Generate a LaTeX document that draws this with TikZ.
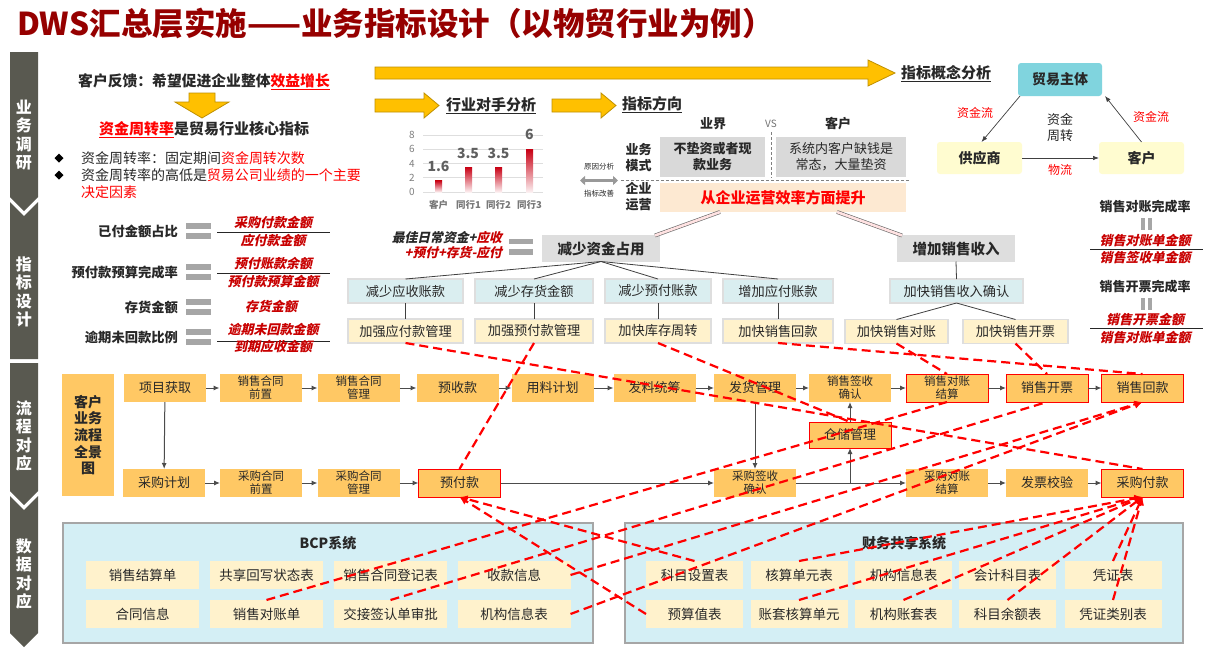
\documentclass[tikz,border=0pt]{standalone}
\usepackage{fontspec}
\setmainfont{Noto Sans CJK SC}
\newfontfamily\slfont{Noto Sans CJK SC}[FakeSlant=0.22]
\usetikzlibrary{arrows.meta}
\newcommand\fsz[2]{\fontsize{#1}{#2}\selectfont}
\definecolor{titred}{RGB}{150,0,0}
\definecolor{sidegray}{RGB}{89,89,80}
\definecolor{arrowy}{RGB}{255,192,0}
\definecolor{arrowd}{RGB}{191,144,0}
\definecolor{redt}{RGB}{255,0,0}
\definecolor{fracred}{RGB}{200,0,0}
\definecolor{graybox}{RGB}{222,222,222}
\definecolor{cyanbox}{RGB}{218,238,240}
\definecolor{yelbox}{RGB}{255,242,204}
\definecolor{procor}{RGB}{255,200,100}
\definecolor{panelc}{RGB}{212,239,245}
\definecolor{peach}{RGB}{253,233,210}
\definecolor{tradec}{RGB}{128,212,222}
\definecolor{ltyel}{RGB}{255,252,208}
\definecolor{barred}{RGB}{200,0,20}
\definecolor{chartg}{RGB}{95,95,95}
\definecolor{eqgray}{RGB}{166,166,166}
\definecolor{txt}{RGB}{40,40,40}
\tikzset{
  every node/.style={inner sep=0pt, outer sep=0pt, text=txt},
  sidelab/.style={font=\bfseries\fsz{16}{18.5}, text=white, align=center},
  bigarrow/.style={fill=arrowy, draw=arrowd, line width=0.8pt},
  head/.style={anchor=west, font=\bfseries\fsz{15}{17}},
  tbox/.style={draw=black!13, line width=1.2pt, minimum height=24pt, font=\fsz{13.2}{15}},
  lvla/.style={tbox, fill=graybox, minimum height=26pt, font=\bfseries\fsz{14.5}{17}},
  lvlb/.style={tbox, fill=cyanbox},
  lvlc/.style={tbox, fill=yelbox},
  tline/.style={draw=black!75, line width=0.8pt},
  pinkcon/.style={draw=black!60, line width=0.6pt, double=pink!45, double distance=2.6pt},
  lab/.style={anchor=east, font=\bfseries\fsz{13.3}{15}},
  frac/.style={font=\slfont\bfseries\fsz{13}{15}, text=fracred},
  fracline/.style={draw=black!85, line width=0.8pt},
  eqbar/.style={fill=eqgray},
  proc/.style={fill=procor, minimum width=82pt, minimum height=28pt, font=\fsz{13}{15}, align=center},
  proctwo/.style={proc, font=\fsz{11.5}{13}},
  redb/.style={draw=red, line width=1pt},
  flow/.style={draw=black!70, line width=1pt, -{Latex[length=6pt,width=5pt]}},
  panel/.style={fill=panelc, draw=black!35, line width=2.2pt},
  dbox/.style={fill=yelbox, minimum height=28pt, font=\fsz{13.5}{15}},
  rd/.style={draw=red, line width=2.2pt, dash pattern=on 9pt off 5pt},
  rda/.style={rd, -{Latex[length=8pt,width=8pt]}},
  thinarrow/.style={draw=black!75, line width=0.7pt, -{Latex[length=6pt,width=4.5pt]}},
  axl/.style={font=\fsz{10}{12}, text=chartg!80},
  valf/.style={font=\bfseries\fsz{14}{16}, text=chartg},
  catf/.style={font=\bfseries\fsz{9.5}{11}, text=chartg!85},
}
\begin{document}
\begin{tikzpicture}[x=1pt,y=-1pt]
\useasboundingbox (0,0) rectangle (1208,651);
\fill[white] (0,0) rectangle (1208,651);

% title
\node[anchor=west, font=\bfseries\fsz{31.5}{35}, text=titred] (title) at (17,23) {DWS汇总层实施——业务指标设计（以物贸行业为例）};

% sidebar
\fill[sidegray] (10,52) -- (38,52) -- (38,197) -- (24,211) -- (10,197) -- cycle;
\fill[sidegray] (10,202) -- (24,216) -- (38,202) -- (38,359) -- (10,359) -- cycle;
\fill[sidegray] (10,363) -- (38,363) -- (38,491) -- (24,505) -- (10,491) -- cycle;
\fill[sidegray] (10,496) -- (24,510) -- (38,496) -- (38,633) -- (24,647) -- (10,633) -- cycle;
\node[sidelab] (s1) at (24,135) {业\\务\\调\\研};
\node[sidelab] (s2) at (24,292) {指\\标\\设\\计};
\node[sidelab] (s3) at (24,436) {流\\程\\对\\应};
\node[sidelab] (s4) at (24,574) {数\\据\\对\\应};

% section 1 left
\node[font=\bfseries\fsz{14.8}{17}] (fb) at (204,82) {客户反馈：希望促进企业整体\textcolor{redt}{\underline{效益增长}}};
\filldraw[bigarrow] (189,93) -- (215,93) -- (215,102) -- (229,102) -- (202,118) -- (175,102) -- (189,102) -- cycle;
\node[font=\bfseries\fsz{15}{17}] (core) at (204,130) {\textcolor{redt}{\underline{资金周转率}}是贸易行业核心指标};
\fill (59,153.5) -- (63.5,158) -- (59,162.5) -- (54.5,158) -- cycle;
\fill (59,170.5) -- (63.5,175) -- (59,179.5) -- (54.5,175) -- cycle;
\node[anchor=west, font=\fsz{14}{16}] (bl1) at (81,158) {资金周转率：固定期间\textcolor{redt}{资金周转次数}};
\node[anchor=west, font=\fsz{14}{16}] (bl2) at (81,175) {资金周转率的高低是\textcolor{redt}{贸易公司业绩的一个主要}};
\node[anchor=west, font=\fsz{14}{16}] (bl3) at (81,192.5) {\textcolor{redt}{决定因素}};

% big arrows
\filldraw[bigarrow] (375,67) -- (868,67) -- (868,60) -- (895,73) -- (868,86) -- (868,79) -- (375,79) -- cycle;
\filldraw[bigarrow] (375,99) -- (424,99) -- (424,93) -- (439,105.5) -- (424,118) -- (424,112) -- (375,112) -- cycle;
\filldraw[bigarrow] (552,99) -- (601,99) -- (601,93) -- (616,105.5) -- (601,118) -- (601,112) -- (552,112) -- cycle;
\node[head] (h1) at (901,74) {\underline{指标概念分析}};
\node[head] (h2) at (446,106) {\underline{行业对手分析}};
\node[head] (h3) at (622,105) {\underline{指标方向}};

% chart
\foreach \v in {0,2,4,6,8} {
  \draw[black!13, line width=0.8pt] (423,{192-\v*7.125}) -- (543,{192-\v*7.125});
  \node[axl] at (412,{192-\v*7.125}) {\v};
}
\foreach \c/\v in {438.5/1.6, 468.5/3.5, 498.5/3.5, 529.5/6}
  \shade[top color=barred, bottom color=barred!6] ({\c-3.5},{192-\v*7.125}) rectangle ({\c+3.5},192);
\node[valf] (v1) at (438.5,166) {1.6};
\node[valf] (v2) at (468,153) {3.5};
\node[valf] (v3) at (498.5,153) {3.5};
\node[valf] (v4) at (529.5,134) {6};
\node[catf] (k1) at (438.5,205) {客户};
\node[catf] (k2) at (468.5,205) {同行1};
\node[catf] (k3) at (498.5,205) {同行2};
\node[catf] (k4) at (529.5,205) {同行3};

% direction block
\node[font=\fsz{7.5}{9}] (yyfx) at (599,167) {原因分析};
\node[font=\fsz{7.5}{9}] (zbgs) at (599,194) {指标改善};
\coordinate (dal) at (580,180.5);
\coordinate (dar) at (618,180.5);
\draw[line width=3.5pt, black!40, {Triangle[length=5pt,width=9pt]}-{Triangle[length=5pt,width=9pt]}] (dal) -- (dar);
\node[font=\bfseries\fsz{13}{15}] (yj) at (713,124) {业界};
\node[font=\fsz{10}{12}, text=black!55] (vs) at (771,124) {VS};
\node[font=\bfseries\fsz{13}{15}] (kh) at (838,124) {客户};
\node[font=\bfseries\fsz{13}{16.5}, align=center] (ywms) at (638.5,157.5) {业务\\模式};
\node[font=\bfseries\fsz{13}{16.5}, align=center] (qyyy) at (638.5,196.5) {企业\\运营};
\node[fill=black!15, minimum width=105pt, minimum height=40pt, font=\bfseries\fsz{13}{16}, align=center] (gb1) at (712.5,157) {不垫资或者现\\款业务};
\node[fill=black!15, minimum width=130pt, minimum height=40pt, font=\fsz{13}{16}, align=center] (gb2) at (841,157) {系统内客户缺钱是\\常态，大量垫资};
\coordinate (vd1) at (771,132);
\coordinate (vd2) at (771,178);
\coordinate (hd1) at (621,180.5);
\coordinate (hd2) at (910,180.5);
\draw[black!50, line width=0.8pt, dash pattern=on 3pt off 2pt] (vd1) -- (vd2);
\draw[black!50, line width=0.8pt, dash pattern=on 3pt off 2pt] (hd1) -- (hd2);
\node[fill=peach, minimum width=246pt, minimum height=29pt, font=\bfseries\fsz{15}{17}, text=redt] (pc) at (783,197.5) {从企业运营效率方面提升};

% trade triangle
\node[fill=tradec, rounded corners=3pt, minimum width=84pt, minimum height=33pt, font=\bfseries\fsz{14}{16}] (trade) at (1060,79.5) {贸易主体};
\node[fill=ltyel, rounded corners=3pt, minimum width=85pt, minimum height=32pt, font=\bfseries\fsz{14}{16}] (supp) at (979.5,158) {供应商};
\node[fill=ltyel, rounded corners=3pt, minimum width=85pt, minimum height=32pt, font=\bfseries\fsz{14}{16}] (cust) at (1141.5,158) {客户};
\draw[thinarrow] ([xshift=2pt]trade.south west) -- ([xshift=2pt]supp.north);
\draw[thinarrow] (cust.north) -- ([xshift=3pt]trade.south east);
\draw[thinarrow] (supp.east) -- (cust.west);
\node[font=\fsz{12}{14}, text=redt] (zjl1) at (975,113) {资金流};
\node[font=\fsz{12}{14}, text=redt] (zjl2) at (1151,117) {资金流};
\node[font=\fsz{13}{15.5}, align=center] (zjzz) at (1060,127.5) {资金\\周转};
\node[font=\fsz{12}{14}, text=redt] (wl) at (1060,170) {物流};

% section 2 left indicators
\node[lab] (i1) at (178,231) {已付金额占比};
\node[lab] (i2) at (178,272) {预付款预算完成率};
\node[lab] (i3) at (178,307) {存货金额};
\node[lab] (i4) at (178,337) {逾期未回款比例};
\foreach \y in {231,272,307,337} {
  \fill[eqgray] (186,{\y-8}) rectangle (211,{\y-2.5});
  \fill[eqgray] (186,{\y+2}) rectangle (211,{\y+7.5});
}
\coordinate (fl1a) at (217,232); \coordinate (fl1b) at (330,232);
\coordinate (fl2a) at (217,273); \coordinate (fl2b) at (330,273);
\coordinate (fl4a) at (217,341); \coordinate (fl4b) at (330,341);
\draw[fracline] (fl1a) -- (fl1b);
\draw[fracline] (fl2a) -- (fl2b);
\draw[fracline] (fl4a) -- (fl4b);
\node[frac] (n1) at (273,223) {采购付款金额};
\node[frac] (d1) at (273,241) {应付款金额};
\node[frac] (n2) at (273,263.5) {预付账款余额};
\node[frac] (d2) at (273,281.5) {预付款预算金额};
\node[frac] (n3) at (271,307) {存货金额};
\node[frac] (n4) at (273,329.5) {逾期未回款金额};
\node[frac] (d4) at (273,347) {到期应收金额};

% tree
\node[anchor=east, font=\slfont\bfseries\fsz{12.8}{14}] (fm1) at (502,238) {最佳日常资金+\textcolor{fracred}{应收}};
\node[anchor=east, font=\slfont\bfseries\fsz{12.8}{14}, text=fracred] (fm2) at (502,253) {+预付+存货-应付};
\fill[eqgray] (509,238.5) rectangle (533,244);
\fill[eqgray] (509,249) rectangle (533,254.5);
\node[lvla, minimum width=116pt] (top1) at (601,248.5) {减少资金占用};
\node[lvla, minimum width=116pt] (top2) at (956,248.5) {增加销售收入};
\node[lvlb, minimum width=115pt] (r21) at (405.5,291) {减少应收账款};
\node[lvlb, minimum width=118pt] (r22) at (534,291) {减少存货金额};
\node[lvlb, minimum width=106pt] (r23) at (658,291) {减少预付账款};
\node[lvlb, minimum width=110pt] (r24) at (778,291) {增加应付账款};
\node[lvlb, minimum width=133pt] (r25) at (956.5,291) {加快销售收入确认};
\node[lvlc, minimum width=115pt] (r31) at (405.5,331) {加强应付款管理};
\node[lvlc, minimum width=118pt] (r32) at (534,331) {加强预付款管理};
\node[lvlc, minimum width=106pt] (r33) at (658,331) {加快库存周转};
\node[lvlc, minimum width=110pt] (r34) at (778,331) {加快销售回款};
\node[lvlc, minimum width=103pt] (r35) at (896.5,331.5) {加快销售对账};
\node[lvlc, minimum width=105pt] (r36) at (1015.5,331.5) {加快销售开票};
\foreach \n in {r21,r22,r23,r24} \draw[tline] (top1.south) -- (\n.north);
\draw[tline] (r21.south) -- (r31.north);
\draw[tline] (r22.south) -- (r32.north);
\draw[tline] (r23.south) -- (r33.north);
\draw[tline] (r24.south) -- (r34.north);
\draw[tline] (top2.south) -- (r25.north);
\draw[tline] (r25.south) -- (r35.north);
\draw[tline] (r25.south) -- (r36.north);
\draw[pinkcon] ([xshift=-63pt]pc.south) -- ([xshift=54pt]top1.north);
\draw[pinkcon] ([xshift=54pt]pc.south) -- ([xshift=-54pt]top2.north);

% right indicators
\node[font=\bfseries\fsz{13}{15}] (ri1) at (1145,207) {销售对账完成率};
\fill[eqgray] (1140.5,218) rectangle (1144.5,230);
\fill[eqgray] (1147.5,218) rectangle (1151.5,230);
\node[frac] (rn1) at (1145,241) {销售对账单金额};
\coordinate (rl1a) at (1090,249); \coordinate (rl1b) at (1203,249);
\draw[fracline] (rl1a) -- (rl1b);
\node[frac] (rd1) at (1145,258) {销售签收单金额};
\node[font=\bfseries\fsz{13}{15}] (ri2) at (1145,287) {销售开票完成率};
\fill[eqgray] (1140.5,298) rectangle (1144.5,310);
\fill[eqgray] (1147.5,298) rectangle (1151.5,310);
\node[frac] (rn2) at (1145,320) {销售开票金额};
\coordinate (rl2a) at (1090,328); \coordinate (rl2b) at (1203,328);
\draw[fracline] (rl2a) -- (rl2b);
\node[frac] (rd2) at (1145,338) {销售对账单金额};

% process
\node[fill=procor, minimum width=52pt, minimum height=122pt, font=\bfseries\fsz{14}{16.6}, align=center] (pano) at (88,435) {客户\\业务\\流程\\全景\\图};
\node[proc] (a1) at (165,388) {项目获取};
\node[proctwo] (a2) at (260.5,388) {销售合同\\前置};
\node[proctwo] (a3) at (358.5,388) {销售合同\\管理};
\node[proc] (a4) at (457.5,388) {预收款};
\node[proc] (a5) at (552.5,388) {用料计划};
\node[proc] (a6) at (654.5,388) {发料统筹};
\node[proc] (a7) at (755,388) {发货管理};
\node[proctwo] (a8) at (850,388) {销售签收\\确认};
\node[proctwo, redb] (a9) at (947,388) {销售对账\\结算};
\node[proc, redb] (a10) at (1047,388) {销售开票};
\node[proc, redb] (a11) at (1142.5,388) {销售回款};
\node[proc] (b1) at (164,483) {采购计划};
\node[proctwo] (b2) at (261,483) {采购合同\\前置};
\node[proctwo] (b3) at (358.5,483) {采购合同\\管理};
\node[proc, redb] (b4) at (459.5,483) {预付款};
\node[proctwo] (b5) at (755,483) {采购签收\\确认};
\node[proctwo] (b6) at (947,483) {采购对账\\结算};
\node[proc] (b7) at (1047,483) {发票校验};
\node[proc, redb] (b8) at (1142.5,483) {采购付款};
\node[proc, redb, minimum height=26pt] (st) at (850,435) {仓储管理};
\draw[flow] (a1) -- (a2);
\draw[flow] (a2) -- (a3);
\draw[flow] (a3) -- (a4);
\draw[flow] (a4) -- (a5);
\draw[flow] (a5) -- (a6);
\draw[flow] (a6) -- (a7);
\draw[flow] (a7) -- (a8);
\draw[flow] (a8) -- (a9);
\draw[flow] (a9) -- (a10);
\draw[flow] (a10) -- (a11);
\draw[flow] (a1) -- (b1);
\draw[flow] (b1) -- (b2);
\draw[flow] (b2) -- (b3);
\draw[flow] (b3) -- (b4);
\draw[flow] (b4) -- (b5);
\draw[flow] (a7) -- (b5);
\draw[flow] (b5) -- (b6);
\draw[flow] (b5.east -| st.south) -- (st.south);
\draw[flow] (st) -- (a8);
\draw[flow] (b6) -- (b7);
\draw[flow] (b7) -- (b8);

% data panels
\node[panel, minimum width=530pt, minimum height=120pt] (bcp) at (328,583) {};
\node[font=\bfseries\fsz{14}{16}] (bcpt) at (328,543) {BCP系统};
\node[dbox, minimum width=113pt] (c1) at (142.5,575) {销售结算单};
\node[dbox, minimum width=113pt] (c2) at (266.5,575) {共享回写状态表};
\node[dbox, minimum width=113pt] (c3) at (390.5,575) {销售合同登记表};
\node[dbox, minimum width=113pt] (c4) at (514,575) {收款信息};
\node[dbox, minimum width=113pt] (c5) at (142.5,614) {合同信息};
\node[dbox, minimum width=113pt] (c6) at (266.5,614) {销售对账单};
\node[dbox, minimum width=113pt] (c7) at (390.5,614) {交接签认单审批};
\node[dbox, minimum width=113pt] (c8) at (514,614) {机构信息表};
\node[panel, minimum width=558pt, minimum height=120pt] (fin) at (904,583) {};
\node[font=\bfseries\fsz{14}{16}] (fint) at (904,543) {财务共享系统};
\node[dbox, minimum width=97pt] (f1) at (694.5,575) {科目设置表};
\node[dbox, minimum width=97pt] (f2) at (799,575) {核算单元表};
\node[dbox, minimum width=97pt] (f3) at (903.5,575) {机构信息表};
\node[dbox, minimum width=97pt] (f4) at (1007.5,575) {会计科目表};
\node[dbox, minimum width=97pt] (f5) at (1113,575) {凭证表};
\node[dbox, minimum width=97pt] (f6) at (694.5,614) {预算值表};
\node[dbox, minimum width=97pt] (f7) at (799,614) {账套核算单元};
\node[dbox, minimum width=97pt] (f8) at (903.5,614) {机构账套表};
\node[dbox, minimum width=97pt] (f9) at (1007.5,614) {科目余额表};
\node[dbox, minimum width=97pt] (f10) at (1113,614) {凭证类别表};

% red dashed mapping lines
\draw[rd] (r31.south) -- (b8.north);
\draw[rd] (r32.south) -- (b4.north);
\draw[rd] (r33.south) -- (st.north);
\draw[rd] (r34.south) -- (a11.north);
\draw[rd] (r35.south) -- (a9.north);
\draw[rd] (r36.south) -- (a10.north);
\draw[rda] (f1.north) -- (b4.south);
\draw[rda] (f6.west) -- (b4.south);
\draw[rd] (c6.north) -- (a9.south);
\draw[rd] (c7.north) -- (a10.south);
\draw[rda] (c4.east) -- (a11.south);
\draw[rda] (c8.east) -- (a11.south);
\draw[rda] (f2.north) -- (b8.south);
\draw[rda] (f7.north) -- (b8.south);
\draw[rda] (f8.north) -- (b8.south);
\draw[rda] (f9.north) -- (b8.south);
\draw[rda] (f10.north) -- (b8.south);
\draw[rda] (f5.north) -- (b8.south);
\end{tikzpicture}
\end{document}
